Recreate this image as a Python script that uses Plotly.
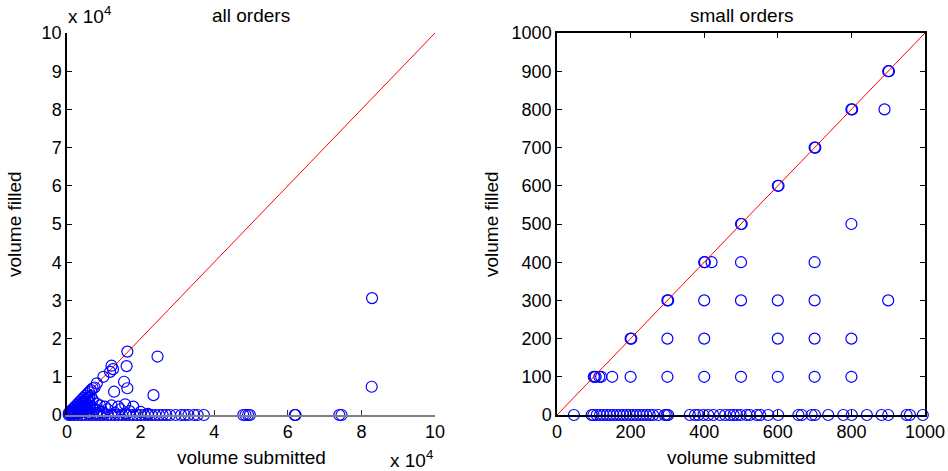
import plotly.graph_objects as go

# ---------------- data: all orders (raw volumes) ----------------
all_submitted = [
    500, 1000, 1500, 2000, 2500, 3000, 3500, 4000, 4500, 5000, 5500, 6000, 6500, 7000, 7500,
    8100, 9900, 11700, 12100, 12500, 16400, 16200, 24600, 15500, 16400, 12800, 23500, 82900, 82800,
    2000, 3000, 4000, 5000, 6000, 5000, 7000, 3000, 6000, 7000, 4500, 5500, 6500, 3500, 8000,
    9000, 10300, 12100, 13900, 15800, 18000, 14500, 11000, 20000, 17000,
    10000, 13000, 16000, 22000, 8000, 6000,
    1000, 1500, 2000, 2500, 3000, 3500, 4000, 4500, 5000, 5500, 6000, 2500, 3500, 4500, 5500,
    800, 1200, 1800, 2200, 2800, 3200, 3800, 4200, 4800, 5200, 6200, 6800, 7500, 8500, 9500,
    500, 1000, 2000, 3000, 4000, 5000, 6000, 7000, 8000, 9000, 10000, 11000, 12000, 13000, 14000,
    15000, 16000, 17000, 18000, 19000, 20000, 21000, 22000, 23000, 24000, 25000, 26000, 27000, 28000,
    29500, 31000, 32000, 33000, 34500, 35500, 37200, 47900, 48500, 49200, 49700, 61900, 62000, 62100,
    74000, 74600,
]
all_filled = [
    500, 1000, 1500, 2000, 2500, 3000, 3500, 4000, 4500, 5000, 5500, 6000, 6500, 7000, 7200,
    8300, 10000, 11300, 12900, 12000, 16600, 12800, 15300, 8700, 7000, 6100, 5200, 30600, 7400,
    1000, 1500, 2000, 3000, 3500, 1500, 4000, 500, 1000, 2000, 3500, 4000, 5000, 2500, 3000,
    2500, 2200, 2500, 2200, 2800, 2200, 1500, 1500, 800, 1000,
    500, 600, 400, 300, 500, 400,
    600, 1000, 1200, 1800, 2200, 2600, 3000, 3200, 3800, 4400, 4600, 800, 1200, 1800, 2500,
    300, 300, 400, 500, 600, 700, 800, 1000, 1200, 1500, 1800, 2000, 1500, 1200, 800,
    0, 0, 0, 0, 0, 0, 0, 0, 0, 0, 0, 0, 0, 0, 0,
    0, 0, 0, 0, 0, 0, 0, 0, 0, 0, 0, 0, 0, 0,
    0, 0, 0, 0, 0, 0, 0, 0, 0, 0, 0, 0, 0, 0,
    0, 0,
]

# ---------------- data: small orders ----------------
small_submitted = [
    100, 200, 300, 400, 500, 600, 700, 800, 900,
    102, 202, 302, 402, 502, 602, 702, 802, 902,
    890, 800,
    420, 500, 700,
    400, 500, 600, 700, 900,
    300, 400, 600, 700, 800,
    105, 115, 120, 150, 200, 300, 400, 500, 600, 700, 800,
    46, 94, 99, 108, 117, 126, 135, 144, 153, 162, 171, 180, 189, 198, 207, 216, 225, 234, 243,
    252, 261, 275, 293, 298, 302, 361, 375, 384, 398, 411, 425, 443, 457, 470, 480, 489, 499,
    515, 524, 543, 552, 574, 601, 656, 665, 692, 701, 737, 778, 801, 842, 882, 900, 950, 959, 994,
]
small_filled = [
    100, 200, 300, 400, 500, 600, 700, 800, 900,
    100, 200, 300, 400, 500, 600, 700, 800, 900,
    800, 500,
    400, 400, 400,
    300, 300, 300, 300, 300,
    200, 200, 200, 200, 200,
    100, 100, 100, 100, 100, 100, 100, 100, 100, 100, 100,
    0, 0, 0, 0, 0, 0, 0, 0, 0, 0, 0, 0, 0, 0, 0, 0, 0, 0, 0,
    0, 0, 0, 0, 0, 0, 0, 0, 0, 0, 0, 0, 0, 0, 0, 0, 0, 0,
    0, 0, 0, 0, 0, 0, 0, 0, 0, 0, 0, 0, 0, 0, 0, 0, 0, 0, 0,
]

diag_all = [0, 100000]
diag_small = [0, 1000]

left_ticks = [0, 10000, 20000, 30000, 40000, 50000, 60000, 70000, 80000, 90000, 100000]
left_x_ticks = [0, 20000, 40000, 60000, 80000, 100000]
left_y_text = ["0", "1", "2", "3", "4", "5", "6", "7", "8", "9", "10"]
left_x_text = ["0", "2", "4", "6", "8", "10"]
small_x_ticks = [0, 200, 400, 600, 800, 1000]
small_y_ticks = [0, 100, 200, 300, 400, 500, 600, 700, 800, 900, 1000]

FONT = "Liberation Sans, Arial, sans-serif"
W, H = 948, 471

fig = go.Figure()

marker = dict(symbol="circle-open", size=11, color="#0000ff", line=dict(width=1.2, color="#0000ff"))

fig.add_trace(go.Scatter(x=diag_all, y=diag_all, mode="lines", line=dict(color="red", width=1),
                         xaxis="x", yaxis="y", showlegend=False))
fig.add_trace(go.Scatter(x=all_submitted, y=all_filled, mode="markers", marker=marker,
                         xaxis="x", yaxis="y", cliponaxis=False, showlegend=False))
fig.add_trace(go.Scatter(x=small_submitted, y=small_filled, mode="markers", marker=marker,
                         xaxis="x2", yaxis="y2", cliponaxis=False, showlegend=False))
fig.add_trace(go.Scatter(x=diag_small, y=diag_small, mode="lines", line=dict(color="red", width=1),
                         xaxis="x2", yaxis="y2", showlegend=False))

x1d = [67 / W, 435 / W]
x2d = [557 / W, 925 / W]
yd = [(H - 415) / H, (H - 33) / H]

tickfont = dict(family=FONT, size=18, color="black")

common = dict(showgrid=False, zeroline=False, showline=True, linewidth=1.5,
              ticks="inside", ticklen=5, tickfont=tickfont, automargin=False)

fig.update_layout(
    width=W, height=H,
    margin=dict(l=0, r=0, t=0, b=0),
    paper_bgcolor="white", plot_bgcolor="white",
    font=dict(family=FONT, size=18, color="black"),
    xaxis=dict(domain=x1d, range=[0, 100000], tickvals=left_x_ticks, ticktext=left_x_text,
               linecolor="#808080", tickcolor="#333333", anchor="y", mirror=False, **common),
    yaxis=dict(domain=yd, range=[0, 100000], tickvals=left_ticks, ticktext=left_y_text,
               linecolor="black", tickcolor="black", anchor="x", mirror=False, **common),
    xaxis2=dict(domain=x2d, range=[0, 1000], tickvals=small_x_ticks,
                linecolor="black", tickcolor="black", anchor="y2", mirror="ticks", **common),
    yaxis2=dict(domain=yd, range=[0, 1000], tickvals=small_y_ticks,
                linecolor="black", tickcolor="black", anchor="x2", mirror="ticks", **common),
)

ann = [
    dict(text="all orders", x=251 / W, y=1 - 16 / H),
    dict(text="small orders", x=741 / W, y=1 - 16 / H),
    dict(text="volume submitted", x=251 / W, y=1 - 457 / H),
    dict(text="volume submitted", x=741 / W, y=1 - 457 / H),
    dict(text="volume filled", x=14 / W, y=1 - 224 / H, textangle=-90),
    dict(text="volume filled", x=491 / W, y=1 - 224 / H, textangle=-90),
    dict(text="x 10<sup>4</sup>", x=89 / W, y=1 - 15 / H),
    dict(text="x 10<sup>4</sup>", x=411 / W, y=1 - 459 / H),
]
for a in ann:
    fig.add_annotation(xref="paper", yref="paper", showarrow=False, xanchor="center", yanchor="middle",
                       font=dict(family=FONT, size=19, color="black"), **a)

fig.write_html("out.html", config={"displayModeBar": False},
               post_script="document.body.style.margin='0';document.body.style.overflow='hidden';")
